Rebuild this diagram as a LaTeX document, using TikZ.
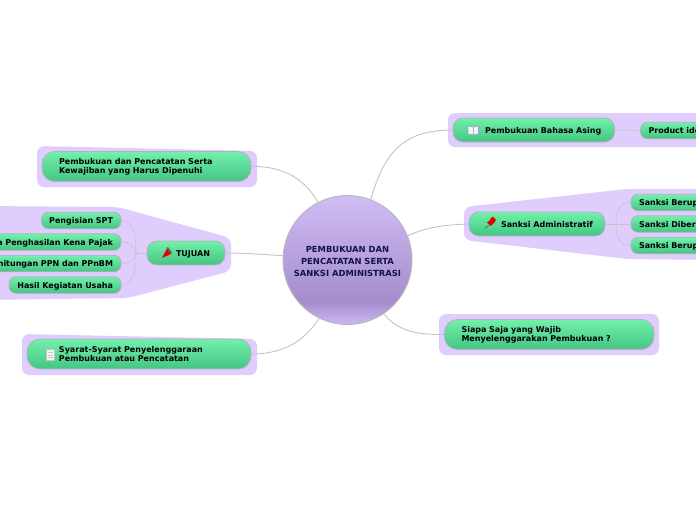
\documentclass[tikz,border=0pt]{standalone}
\usepackage{fontspec}
\setmainfont{DejaVu Sans}
\definecolor{blob}{RGB}{223,205,253}
\definecolor{edgeg}{RGB}{184,174,190}
\definecolor{ballrim}{RGB}{184,184,188}
\definecolor{link}{RGB}{196,196,196}
\definecolor{navy}{RGB}{16,19,79}
\definecolor{gTop}{RGB}{114,240,172}
\definecolor{gLow}{RGB}{70,200,132}
\definecolor{gLip}{RGB}{98,221,157}
\definecolor{pTop}{RGB}{208,189,245}
\definecolor{pLow}{RGB}{165,140,204}
\definecolor{pLip}{RGB}{203,184,243}
\pgfdeclareverticalshading{greenbtn}{100bp}{color(0bp)=(gLip);color(25bp)=(gLip);color(28bp)=(gLow);color(75bp)=(gTop);color(100bp)=(gTop)}
\pgfdeclareverticalshading{purpleball}{100bp}{color(0bp)=(pLip);color(25bp)=(pLip);color(34bp)=(pLow);color(75bp)=(pTop);color(100bp)=(pTop)}
\newcommand{\ind}[2]{\hspace*{#1}\raisebox{-2pt}[0pt][0pt]{\parbox[c]{190pt}{\raggedright #2}}\hfill}
\newcommand{\one}[1]{\raisebox{-3pt}[0pt][0pt]{#1}}
\tikzset{
  btn/.style={draw=edgeg,line width=0.8pt,shading=greenbtn,inner xsep=0pt,inner ysep=0pt,
    font=\fontsize{8}{9}\bfseries\selectfont,text=black},
  big/.style={btn,rounded corners=13pt,minimum height=30pt},
  mid/.style={btn,rounded corners=10pt,minimum height=24pt},
  small/.style={btn,rounded corners=7pt,minimum height=16.5pt},
  blobby/.style={fill=blob,draw=none,rounded corners=7pt},
  mainlink/.style={draw=link,line width=0.9pt},
  sublink/.style={draw=link,line width=0.6pt}
}
\begin{document}
\begin{tikzpicture}[x=1pt,y=-1pt]
\useasboundingbox (0,0) rectangle (696,520);
\clip (0,0) rectangle (696,520);
% background groups
\fill[blobby] (37,146) -- (257,151) -- (257,187) -- (37,187) -- cycle;
\fill[blobby] (-20,206) -- (118,207) -- (231,238) -- (231,271) -- (128,298) -- (-20,300) -- cycle;
\fill[blobby] (22,334) -- (257,339) -- (257,375) -- (22,375) -- cycle;
\fill[blobby] (448,113) -- (720,113) -- (720,147) -- (448,147) -- cycle;
\fill[blobby] (464,207) -- (627,189) -- (720,189) -- (720,260) -- (627,259) -- (464,240) -- cycle;
\fill[blobby] (439,314) -- (659,314) -- (659,355) -- (439,355) -- cycle;
% nodes
\node[circle,draw=ballrim,line width=0.9pt,shading=purpleball,minimum size=129pt,inner sep=0pt,align=center,text=navy,
  font=\fontsize{8.4}{12}\bfseries\selectfont] (root) at (347.5,260) {\rule{0pt}{8.5pt}PEMBUKUAN DAN\\PENCATATAN SERTA\\SANKSI ADMINISTRASI};
\node[big,text width=209pt] (kewajiban) at (146.5,166.5) {\ind{17pt}{Pembukuan dan Pencatatan Serta\\Kewajiban yang Harus Dipenuhi}};
\node[big,text width=224pt] (syarat) at (139,354) {\ind{32pt}{Syarat-Syarat Penyelenggaraan\\Pembukuan atau Pencatatan}};
\node[big,text width=209.5pt] (siapa) at (549.25,334.5) {\ind{17pt}{Siapa Saja yang Wajib\\Menyelenggarakan Pembukuan ?}};
\node[mid,text width=78pt] (tujuan) at (186,253) {\hspace*{29pt}\one{TUJUAN}};
\node[mid,text width=161.5pt] (bahasa) at (533.75,130) {\hspace*{32pt}\one{Pembukuan Bahasa Asing}};
\node[mid,text width=136pt] (admin) at (537,224) {\hspace*{32pt}\one{Sanksi Administratif}};
\node[small,text width=79.5pt,align=right] (spt) at (81.25,220.5) {\one{Pengisian SPT}\hspace*{8pt}};
\node[small,text width=160pt,align=right] (pkp) at (41,242) {\one{a Penghasilan Kena Pajak}\hspace*{8pt}};
\node[small,text width=160pt,align=right] (ppn) at (41,263.5) {\one{hitungan PPN dan PPnBM}\hspace*{8pt}};
\node[small,text width=112pt,align=right] (hasil) at (65,285) {\one{Hasil Kegiatan Usaha}\hspace*{8pt}};
\node[small,text width=100pt] (prod) at (690.5,130.5) {\hspace*{8pt}\one{Product ide}};
\node[small,text width=100pt] (s1) at (681,202.5) {\hspace*{8pt}\one{Sanksi Berup}};
\node[small,text width=100pt] (s2) at (681,224) {\hspace*{8pt}\one{Sanksi Diber}};
\node[small,text width=100pt] (s3) at (681,245.5) {\hspace*{8pt}\one{Sanksi Berup}};
% connectors
\coordinate (jl) at (136,253);
\coordinate (jr) at (616,224);
\draw[mainlink] (kewajiban.east) .. controls (285,166) and (305,180) .. (root.117);
\draw[mainlink] (syarat.east) .. controls (285,354) and (305,340) .. (root.-116);
\draw[mainlink] (tujuan.east) .. controls (250,253) and (265,255) .. (root.176);
\draw[mainlink] (bahasa.west) .. controls (405,130) and (385,150) .. (root.69);
\draw[mainlink] (admin.west) .. controls (440,225) and (425,228) .. (root.22);
\draw[mainlink] (siapa.west) .. controls (415,335) and (397,330) .. (root.-56);
\draw[mainlink] (tujuan.west) -- (jl);
\draw[sublink] (jl) .. controls (136,235) and (133,220) .. (spt.east);
\draw[sublink] (jl) .. controls (135,247) and (130,242) .. (pkp.east);
\draw[sublink] (jl) .. controls (135,259) and (130,263.5) .. (ppn.east);
\draw[sublink] (jl) .. controls (136,271) and (133,285) .. (hasil.east);
\draw[sublink] (bahasa.east) -- (prod.west);
\draw[mainlink] (admin.east) -- (jr);
\draw[sublink] (jr) .. controls (616,210) and (620,202.5) .. (s1.west);
\draw[sublink] (jr) -- (s2.west);
\draw[sublink] (jr) .. controls (616,238) and (620,245.5) .. (s3.west);
% icons
% megaphone
\fill[red!90!black] (162,258) -- (167,248.5) -- (171,254) -- cycle;
\fill[gray!75!black] (166.5,248) -- (168,247) -- (172,252.5) -- (171,254) -- cycle;
% notepad
\fill[white!92!gray,draw=gray!45,line width=0.4pt] (46.5,349.5) rectangle (54,360);
\draw[gray!40,line width=0.4pt] (48,352.5) -- (52.5,352.5) (48,355) -- (52.5,355) (48,357.5) -- (52.5,357.5);
% book
\fill[white!92!gray,draw=blue!25!gray!60,line width=0.6pt] (468,126) -- (473,127) -- (478.5,126) -- (478.5,134) -- (473,134.5) -- (468,134) -- cycle;
\draw[gray!60,line width=0.4pt] (473,127) -- (473,134.5);
% pin
\fill[red!90!black] (487,222.5) -- (492,218.5) -- (495,222) -- (490.5,226) -- cycle;
\fill[red!90!black] (490,219) -- (493,216.5) -- (496,220) -- (494,222) -- cycle;
\draw[gray!70!black,line width=0.6pt] (489,225) -- (485,228.5);
\end{tikzpicture}
\end{document}
